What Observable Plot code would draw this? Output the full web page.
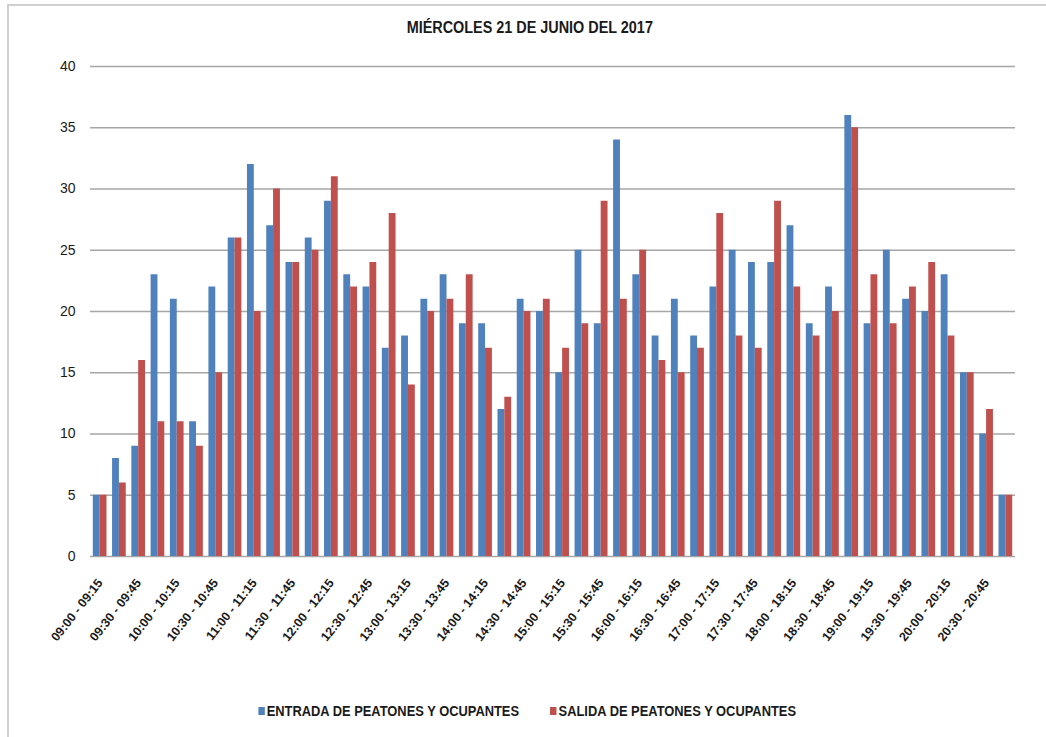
<!DOCTYPE html>
<html>
<head>
<meta charset="utf-8">
<script src="https://cdn.jsdelivr.net/npm/d3@7"></script>
<script src="https://cdn.jsdelivr.net/npm/@observablehq/plot@0.6"></script>
<style>
  html, body { margin: 0; padding: 0; background: #fff; }
  body { width: 1046px; height: 737px; position: relative; overflow: hidden;
         font-family: "Liberation Sans", Arial, sans-serif; }
  #frame { position: absolute; left: 7px; top: 4px; width: 1060px; height: 760px;
           border: 2px solid #cfcfcf; box-sizing: border-box; }
  #title { position: absolute; left: 0; top: 19px; width: 1046px; text-align: center;
           font-weight: bold; font-size: 16px; color: #1a1a1a; }
  #title span { display: inline-block; transform: scaleX(0.9); transform-origin: center; margin-left: 14px; }
  #chart { position: absolute; left: 0; top: 50px; }
  #legend { position: absolute; left: 0; top: 702px; width: 1046px; text-align: center;
            font-weight: bold; font-size: 14px; color: #1a1a1a; }
  #legend .inner { display: inline-flex; gap: 34px; transform: scaleX(0.92); transform-origin: center; margin-left: 8px; }
  .item { display: flex; align-items: center; gap: 2px; }
  .sw { width: 7px; height: 8px; display: inline-block; }
</style>
</head>
<body>
<div id="frame"></div>
<div id="title"><span>MIÉRCOLES 21 DE JUNIO DEL 2017</span></div>
<div id="chart"></div>
<div id="legend"><div class="inner"></div></div>
<script>
const slots = [
  "09:00 - 09:15","09:15 - 09:30","09:30 - 09:45","09:45 - 10:00",
  "10:00 - 10:15","10:15 - 10:30","10:30 - 10:45","10:45 - 11:00",
  "11:00 - 11:15","11:15 - 11:30","11:30 - 11:45","11:45 - 12:00",
  "12:00 - 12:15","12:15 - 12:30","12:30 - 12:45","12:45 - 13:00",
  "13:00 - 13:15","13:15 - 13:30","13:30 - 13:45","13:45 - 14:00",
  "14:00 - 14:15","14:15 - 14:30","14:30 - 14:45","14:45 - 15:00",
  "15:00 - 15:15","15:15 - 15:30","15:30 - 15:45","15:45 - 16:00",
  "16:00 - 16:15","16:15 - 16:30","16:30 - 16:45","16:45 - 17:00",
  "17:00 - 17:15","17:15 - 17:30","17:30 - 17:45","17:45 - 18:00",
  "18:00 - 18:15","18:15 - 18:30","18:30 - 18:45","18:45 - 19:00",
  "19:00 - 19:15","19:15 - 19:30","19:30 - 19:45","19:45 - 20:00",
  "20:00 - 20:15","20:15 - 20:30","20:30 - 20:45","20:45 - 21:00"
];
const shownLabels = [
  "09:00 - 09:15","09:30 - 09:45","10:00 - 10:15","10:30 - 10:45",
  "11:00 - 11:15","11:30 - 11:45","12:00 - 12:15","12:30 - 12:45",
  "13:00 - 13:15","13:30 - 13:45","14:00 - 14:15","14:30 - 14:45",
  "15:00 - 15:15","15:30 - 15:45","16:00 - 16:15","16:30 - 16:45",
  "17:00 - 17:15","17:30 - 17:45","18:00 - 18:15","18:30 - 18:45",
  "19:00 - 19:15","19:30 - 19:45","20:00 - 20:15","20:30 - 20:45"
];
const entrada = [5,8,9,23,21,11,22,26,32,27,24,26,29,23,22,17,18,21,23,19,19,12,21,20,
                 15,25,19,34,23,18,21,18,22,25,24,24,27,19,22,36,19,25,21,20,23,15,10,5];
const salida  = [5,6,16,11,11,9,15,26,20,30,24,25,31,22,24,28,14,20,21,23,17,13,20,21,
                 17,19,29,21,25,16,15,17,28,18,17,29,22,18,20,35,23,19,22,24,18,15,12,5];
const seriesNames = ["ENTRADA DE PEATONES Y OCUPANTES", "SALIDA DE PEATONES Y OCUPANTES"];
const seriesColors = ["#4F81BD", "#C0504D"];
const yTicks = [0,5,10,15,20,25,30,35,40];

const rows = slots.flatMap((s, i) => [
  {slot: s, serie: seriesNames[0], value: entrada[i]},
  {slot: s, serie: seriesNames[1], value: salida[i]}
]);

const W = 1046, mL = 90, mR = 31;
const pI = 0.29, pO = 0.145;
const step = (W - mL - mR) / (slots.length - pI + 2 * pO);
const half = step * (1 - pI) / 2;
const shown = new Set(shownLabels);

const chart = Plot.plot({
  width: W, height: 640,
  marginLeft: mL, marginRight: mR, marginTop: 16, marginBottom: 134,
  style: {fontFamily: '"Liberation Sans", Arial, sans-serif', color: "#1a1a1a", background: "transparent"},
  x: {domain: slots, paddingInner: pI, paddingOuter: pO, round: false, label: null},
  y: {domain: [0, 40], label: null},
  marks: [
    Plot.ruleY(yTicks, {stroke: "#a6a6a6", strokeWidth: 1.6}),
    Plot.barY(rows.filter(d => d.serie === seriesNames[0]),
      {x: "slot", y: "value", fill: seriesColors[0], insetRight: half}),
    Plot.barY(rows.filter(d => d.serie === seriesNames[1]),
      {x: "slot", y: "value", fill: seriesColors[1], insetLeft: half}),
    Plot.axisY(yTicks, {tickSize: 0, tickPadding: 15, fontSize: 14, label: null}),
    Plot.axisX({tickSize: 0, tickPadding: 24, tickRotate: -52, fontSize: 12.5, fontWeight: "bold",
      tickFormat: d => shown.has(d) ? d : "", label: null})
  ]
});
document.getElementById("chart").appendChild(chart);

const legend = document.querySelector("#legend .inner");
seriesNames.forEach((n, i) => {
  const it = document.createElement("div");
  it.className = "item";
  const sw = document.createElement("span");
  sw.className = "sw";
  sw.style.background = seriesColors[i];
  const tx = document.createElement("span");
  tx.textContent = n;
  it.appendChild(sw); it.appendChild(tx);
  legend.appendChild(it);
});
</script>
</body>
</html>
